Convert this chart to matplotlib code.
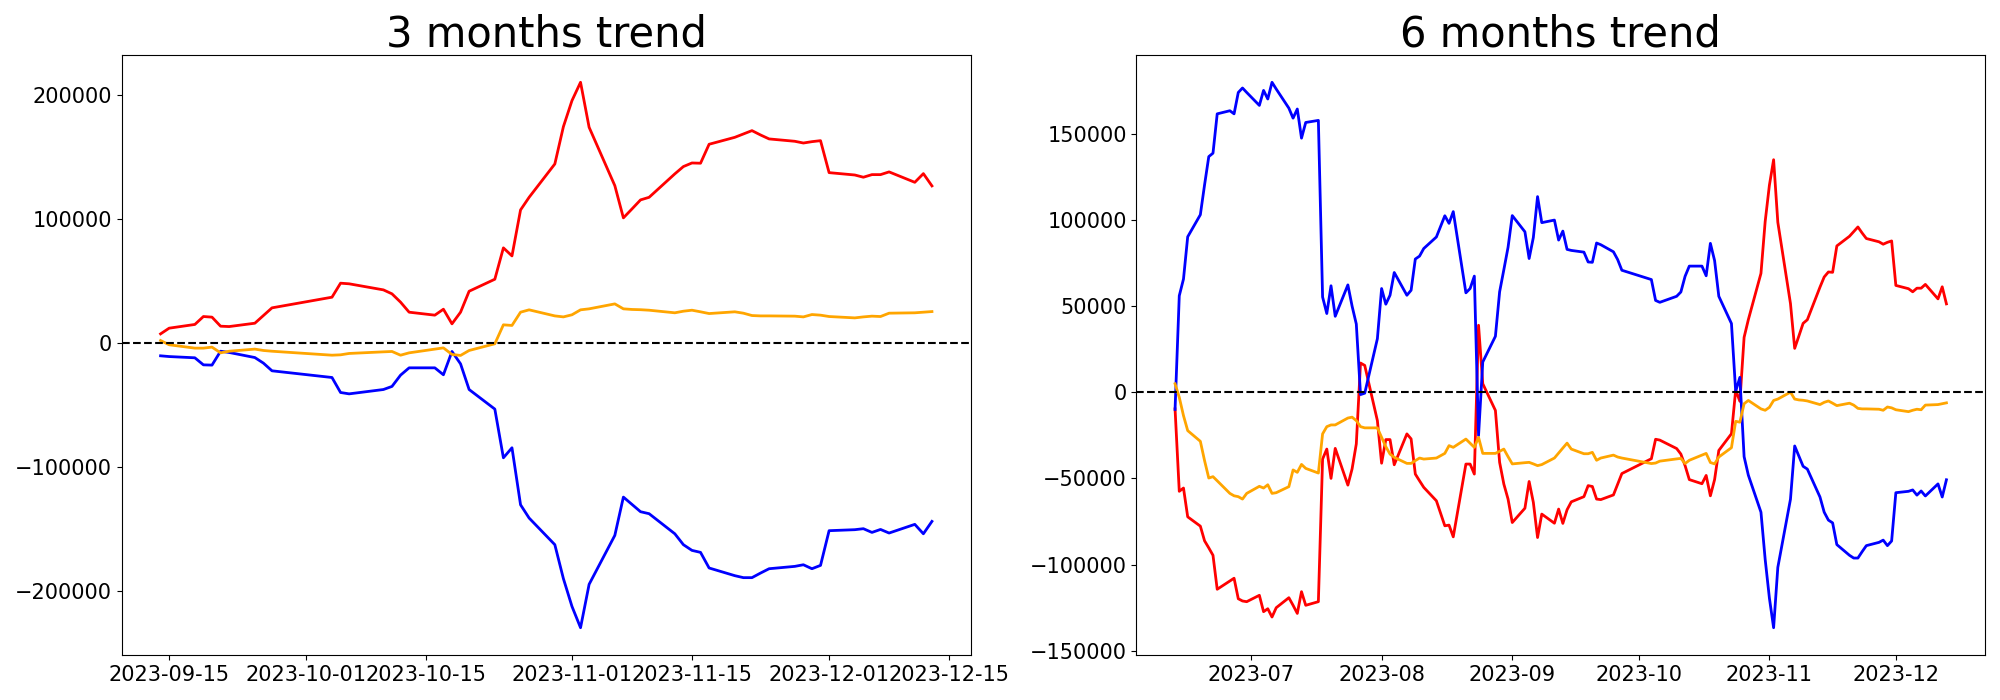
"""Cumulative net flow trend over the last 3 and 6 months.

Three investor groups (red / blue / orange) plotted as running totals
on trading days, with a dashed zero reference line.
"""

import pandas as pd
import matplotlib
matplotlib.use("Agg")
import matplotlib.pyplot as plt

# Market holidays in the plotted window (no trading on these days)
HOLIDAYS = ["2023-08-15", "2023-09-28", "2023-09-29",
            "2023-10-02", "2023-10-03", "2023-10-09"]

dates_3m = pd.bdate_range("2023-09-14", "2023-12-13", freq="C", holidays=HOLIDAYS)
dates_6m = pd.bdate_range("2023-06-13", "2023-12-13", freq="C", holidays=HOLIDAYS)

# ----------------------------------------------------------------------
# 3 months window (2023-09-14 .. 2023-12-13)
# ----------------------------------------------------------------------
red_3m = [
    7500, 12100, 15100, 21500, 21000, 13700, 13400, 16100, 22300, 28500,
    37100, 48400, 47900, 43000, 39800, 33100, 25000, 22600, 27400, 15600,
    25000, 41900, 51600, 76900, 70400, 107500, 117700, 144600, 174700, 195700,
    210500, 174200, 127100, 101100, 108300, 115600, 117700, 136600, 142500, 145400,
    145200, 160500, 166100, 168800, 171500, 168000, 164800, 162900, 161500, 162600,
    163400, 137600, 135700, 133900, 136000, 136000, 138200, 129800, 136800, 126900,
]
blue_3m = [
    -10200, -10800, -11800, -17500, -17700, -6500, -7500, -11600, -16100, -22300,
    -27700, -39800, -40900, -37400, -34900, -25800, -19900, -19900, -25500, -6700,
    -16700, -37400, -53200, -92500, -84400, -130400, -141100, -162600, -190000, -212400,
    -229600, -194600, -155100, -124200, -130100, -136000, -137600, -153800, -162600, -167200,
    -168800, -181400, -187600, -189200, -189200, -185500, -182000, -180100, -178800, -182000,
    -179300, -151300, -150500, -149700, -152700, -150300, -153200, -146200, -153800, -143800,
]
orange_3m = [
    2150, -1300, -4000, -4000, -3200, -7800, -6500, -4800, -5900, -6500,
    -9700, -9400, -8300, -7000, -6700, -9700, -7800, -4800, -3800, -9100,
    -9900, -5900, -500, 14800, 14300, 25000, 26900, 22000, 21200, 22900,
    26900, 27700, 31700, 27700, 27200, 27000, 26600, 24500, 25800, 26600,
    25300, 23900, 25300, 24200, 22300, 22000, 22000, 21800, 21200, 23100,
    22600, 21500, 20400, 21200, 21800, 21500, 24200, 24500, 25000, 25500,
]

# ----------------------------------------------------------------------
# 6 months window (2023-06-13 .. 2023-12-13)
# ----------------------------------------------------------------------
red_6m = [
    # Jun
    -9700, -57500, -55600, -72300, -77700, -86200, -90300, -94600, -114300, -109500,
    -107900, -119800, -121100, -121500,
    # Jul
    -117800, -127300, -125600, -130400, -125000, -119200, -123600, -128300, -115700, -123600,
    -121500, -38800, -33000, -50000, -32600, -53900, -44500, -30000, 16900, 15500, -16500,
    # Aug
    -41200, -27500, -27500, -42100, -24200, -27100, -47500, -51400, -55200, -63000,
    -77500, -77100, -83900, -41700, -41700, -47500, 38800, 4900, -10600, -40700,
    -53300, -62000,
    # Sep - Dec
    -75600, -67300, -51800, -63900, -84300, -70700, -76000, -67800, -76100,
    -68200, -63600, -60600, -54200, -54700, -62000, -62300, -59600, -53400, -47200,
    -38600, -27300, -27800, -32700, -35900, -42600, -50700, -53100, -48300, -60100,
    -50700, -33800, -24100, 1200, -5300, 31800, 42000, 68900, 99000, 120000,
    134800, 98500, 51400, 25400, 32600, 39900, 42000, 60900, 66800, 69700,
    69500, 84800, 90400, 93100, 95800, 92300, 89100, 87200, 85800, 86900,
    87700, 61900, 60000, 58200, 60300, 60300, 62500, 54100, 61100, 51200,
]
blue_6m = [
    # Jun
    -10000, 55900, 65600, 90100, 102900, 120200, 136600, 138600, 161400, 163200,
    161400, 173800, 176400, 173800,
    # Jul
    166300, 175000, 170000, 179700, 175800, 164700, 158900, 164200, 147300, 156400,
    157600, 55200, 45600, 61700, 44000, 62200, 49900, 39500, -1400, -600, 31000,
    # Aug
    60100, 51000, 56200, 69400, 56200, 59100, 77200, 78900, 83300, 90000,
    102300, 97900, 104700, 57600, 60100, 67300, -25200, 17500, 32400, 58200,
    71000, 84000,
    # Sep - Dec
    102400, 93000, 77500, 89700, 113400, 98300, 99800, 88200, 93400,
    82800, 82200, 81200, 75500, 75300, 86500, 85500, 81400, 76900, 70700,
    65300, 53200, 52100, 55600, 58100, 67200, 73100, 73100, 67500, 86300,
    76300, 55600, 39800, 500, 8600, -37400, -48100, -69600, -97000, -119400,
    -136600, -101600, -62100, -31200, -37100, -43000, -44600, -60800, -69600, -74200,
    -75800, -88400, -94600, -96200, -96200, -92500, -89000, -87100, -85800, -89000,
    -86300, -58300, -57500, -56700, -59700, -57300, -60200, -53200, -60800, -50800,
]
orange_6m = [
    # Jun
    4850, -3000, -13600, -22300, -28500, -39700, -49800, -49000, -51400, -58700,
    -60100, -60600, -62000, -58700,
    # Jul
    -54600, -55600, -53700, -58700, -58300, -54800, -45100, -46500, -41900, -44200,
    -46900, -24200, -20000, -19000, -19000, -15000, -14500, -16500, -20000, -20700, -20700,
    # Aug
    -26200, -31600, -35900, -37800, -41300, -41300, -39700, -38200, -38800, -38200,
    -35500, -31000, -32000, -27200, -29600, -32000, -26200, -35500, -35500, -34300,
    -33000, -37400,
    # Sep - Dec
    -41600, -40900, -40700, -41600, -42600, -42000, -38200, -35300, -32400,
    -29550, -33000, -35700, -35700, -34900, -39500, -38200, -36500, -37600, -38200,
    -41400, -41100, -40000, -38700, -38400, -41400, -39500, -36500, -35500, -40800,
    -41600, -37600, -32200, -16900, -17400, -6700, -4800, -9700, -10500, -8800,
    -4800, -4000, 0, -4000, -4500, -4700, -5100, -7200, -5900, -5100,
    -6400, -7800, -6400, -7500, -9400, -9700, -9700, -9900, -10500, -8600,
    -9100, -10200, -11300, -10500, -9900, -10200, -7500, -7200, -6700, -6200,
]

COLORS = ["red", "blue", "orange"]


def plot_trend(ax, dates, series, title):
    for values, color in zip(series, COLORS):
        ax.plot(dates, values, color=color, linewidth=2)
    ax.axhline(0, color="black", linestyle="--", linewidth=1.5)
    ax.set_title(title, fontsize=30)
    ax.tick_params(axis="both", labelsize=15)


if __name__ == "__main__":
    assert len(dates_3m) == len(red_3m) == len(blue_3m) == len(orange_3m)
    assert len(dates_6m) == len(red_6m) == len(blue_6m) == len(orange_6m)

    fig, (ax1, ax2) = plt.subplots(1, 2, figsize=(20, 7))
    plot_trend(ax1, dates_3m, [red_3m, blue_3m, orange_3m], "3 months trend")
    plot_trend(ax2, dates_6m, [red_6m, blue_6m, orange_6m], "6 months trend")

    fig.subplots_adjust(left=0.061, right=0.9925, bottom=0.0643, top=0.9214, wspace=0.1956)
    fig.savefig("out.png", dpi=100)
    plt.close(fig)
